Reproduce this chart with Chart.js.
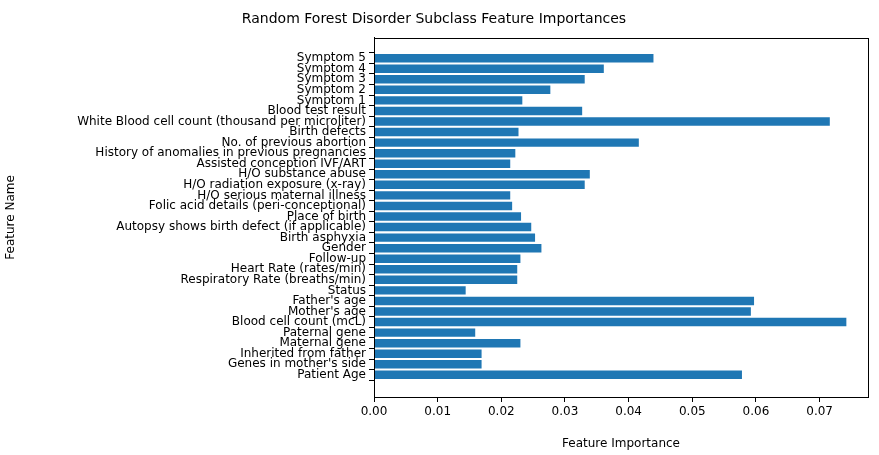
<!DOCTYPE html>
<html>
<head>
<meta charset="utf-8">
<script src="https://cdn.jsdelivr.net/npm/chart.js@4"></script>
<style>body{margin:0;background:#fff}</style>
</head>
<body>
<canvas id="c" width="879" height="455"></canvas>
<script>
// top to bottom, as in the picture
const features = ["Symptom 5","Symptom 4","Symptom 3","Symptom 2","Symptom 1","Blood test result",
  "White Blood cell count (thousand per microliter)","Birth defects","No. of previous abortion",
  "History of anomalies in previous pregnancies","Assisted conception IVF/ART","H/O substance abuse",
  "H/O radiation exposure (x-ray)","H/O serious maternal illness","Folic acid details (peri-conceptional)",
  "Place of birth","Autopsy shows birth defect (if applicable)","Birth asphyxia","Gender","Follow-up",
  "Heart Rate (rates/min)","Respiratory Rate (breaths/min)","Status","Father's age","Mother's age",
  "Blood cell count (mcL)","Paternal gene","Maternal gene","Inherited from father",
  "Genes in mother's side","Patient Age"];
const importances = [0.0439,0.0361,0.0331,0.0277,0.0233,0.0327,0.0716,0.0227,0.0416,0.0222,0.0214,
  0.0339,0.0331,0.0214,0.0217,0.0231,0.0247,0.0253,0.0263,0.0230,0.0225,0.0225,0.0144,0.0597,
  0.0592,0.0742,0.0159,0.0230,0.0169,0.0169,0.0578];
const xTicks = [0,0.01,0.02,0.03,0.04,0.05,0.06,0.07];

const n = features.length;
const points = importances.map((v, i) => ({x: v, y: n - 1 - i}));

const font = {family:"DejaVu Sans", size:12};
const frame = {
  id:"frame",
  afterDraw(chart){
    const a = chart.chartArea, ctx = chart.ctx;
    ctx.save(); ctx.strokeStyle="#000"; ctx.lineWidth=1;
    ctx.strokeRect(Math.round(a.left)+0.5, Math.round(a.top)+0.5, Math.round(a.right-a.left), Math.round(a.bottom-a.top));
    ctx.restore();
  }
};
new Chart(document.getElementById("c"), {
  type:"bar",
  data:{datasets:[{data:points, backgroundColor:"#1f77b4",
    categoryPercentage:1, barPercentage:0.8}]},
  options:{
    responsive:false, animation:false, indexAxis:"y",
    layout:{padding:{left:0, right:11, top:1, bottom:0}},
    plugins:{legend:{display:false}, tooltip:{enabled:false},
      title:{display:true, text:"Random Forest Disorder Subclass Feature Importances",
        color:"#000", font:{family:"DejaVu Sans", size:14, weight:"normal"}, padding:{top:10, bottom:10}}},
    scales:{
      x:{type:"linear", min:0, max:0.0776,
        afterBuildTicks(s){ s.ticks = xTicks.map(v=>({value:v})); },
        ticks:{color:"#000", font, callback:v=>v.toFixed(2), maxRotation:0},
        grid:{drawOnChartArea:false, color:"#000", tickLength:5},
        border:{color:"#000"},
        title:{display:true, text:"Feature Importance", color:"#000", font, padding:{top:0}},
        afterFit(s){ s.height = 58; }},
      y:{type:"linear", min:-1.55, max:n - 1 + 1.38,
        afterBuildTicks(s){ s.ticks = features.map((f, i)=>({value:i})); },
        ticks:{color:"#000", font, autoSkip:false, padding:3, callback:v=>features[n - 1 - v]},
        grid:{drawOnChartArea:false, color:"#000", tickLength:5},
        border:{color:"#000"},
        title:{display:true, text:"Feature Name", color:"#000", font},
        afterFit(s){ s.width = 374; }}
    }
  },
  plugins:[frame]
});
</script>
</body>
</html>
